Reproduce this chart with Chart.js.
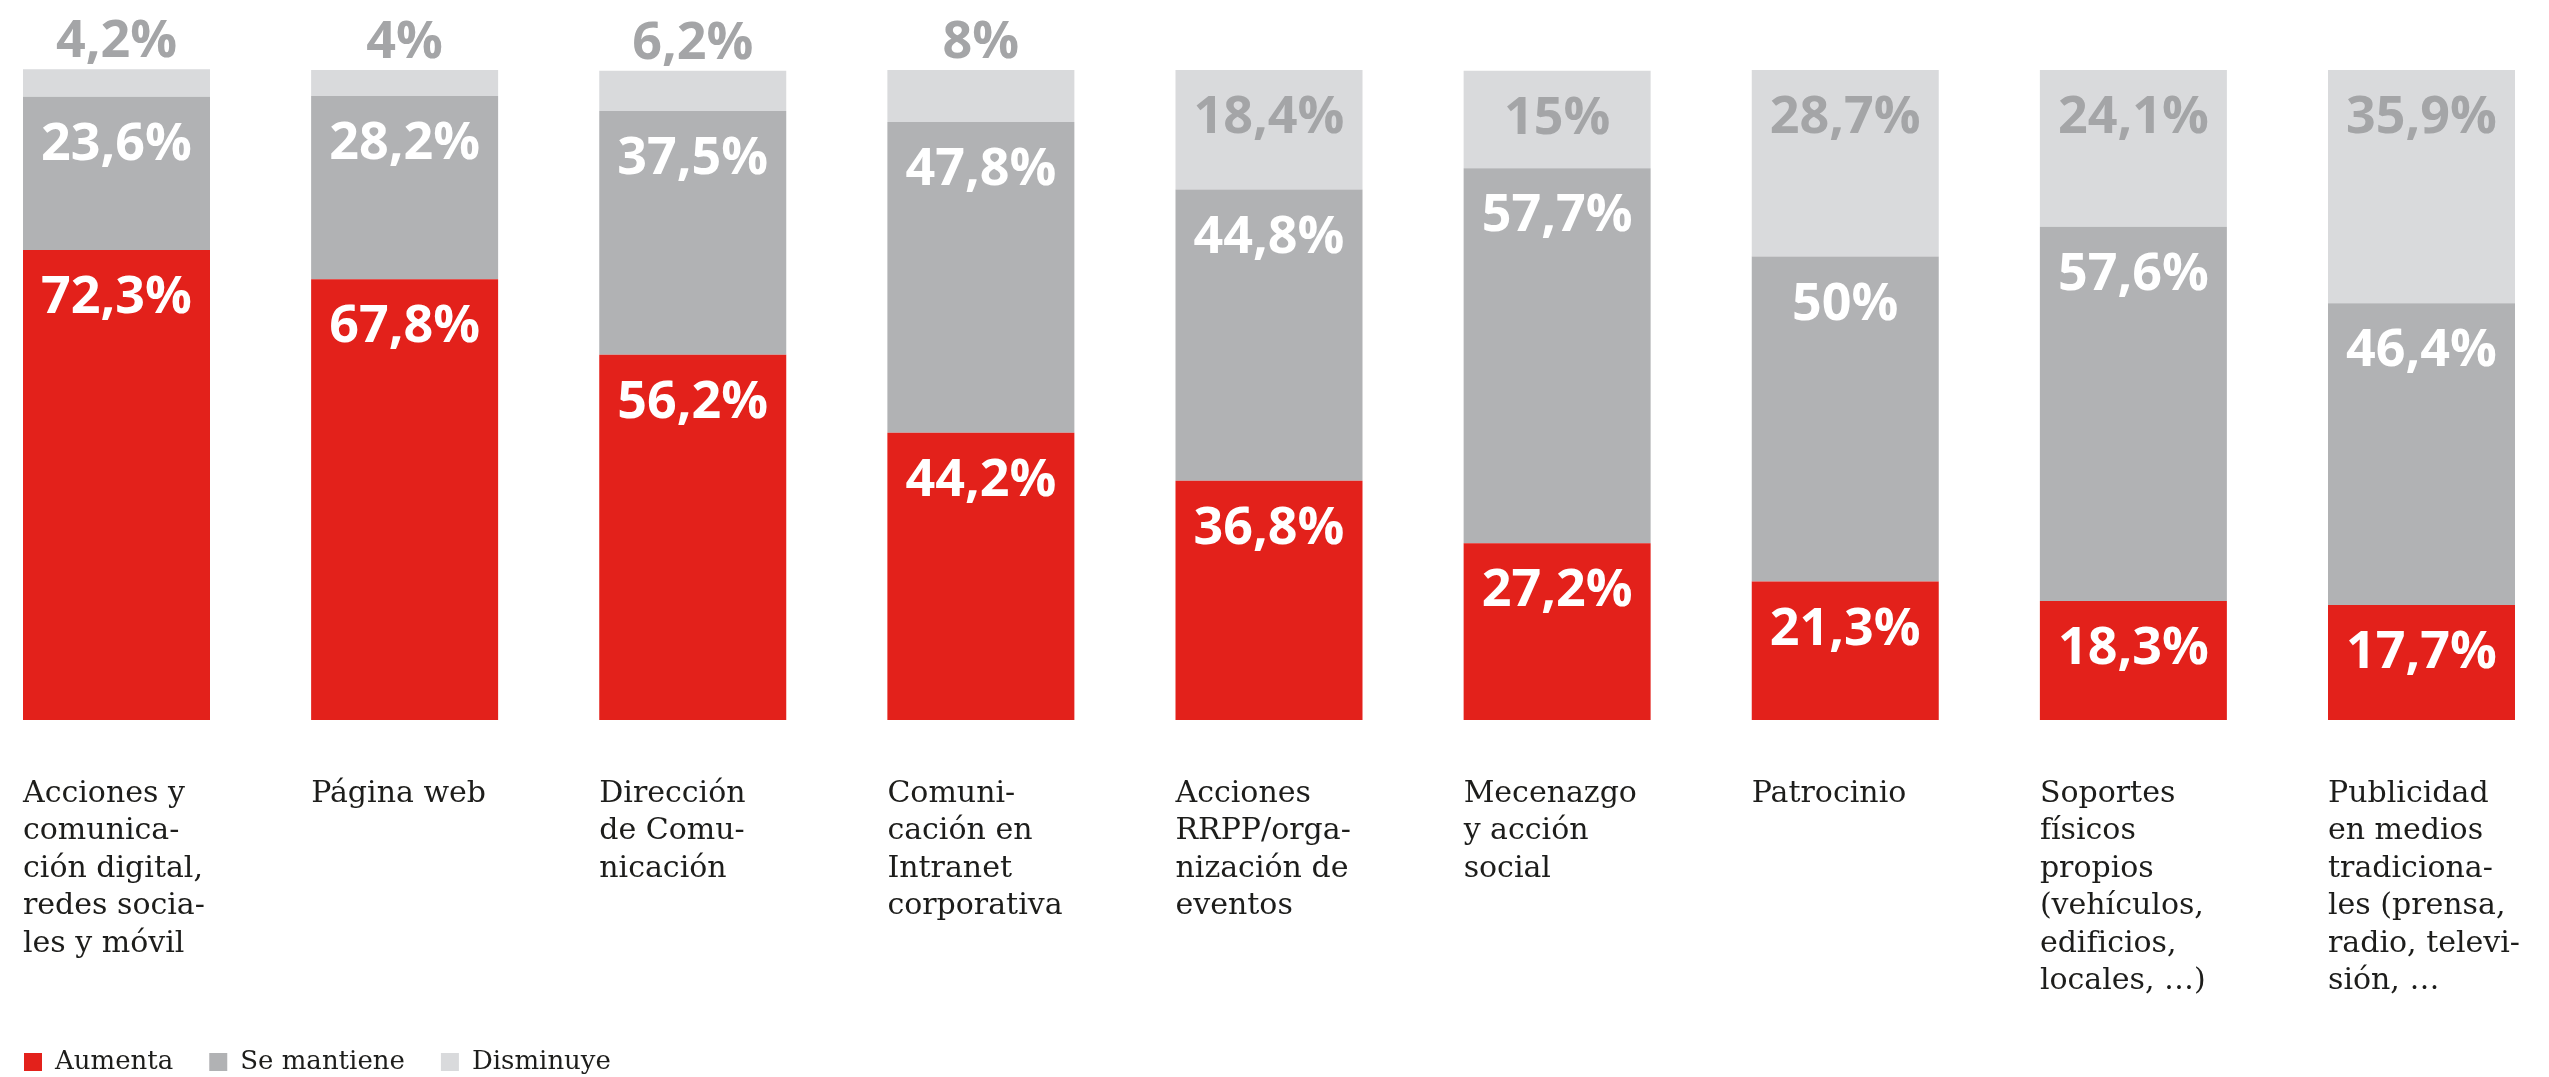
<!DOCTYPE html>
<html lang="es">
<head>
<meta charset="utf-8">
<title>Evolución de la inversión por acción de comunicación</title>
<script src="https://cdn.jsdelivr.net/npm/chart.js@4.4.1/dist/chart.umd.min.js"></script>
<style>
  html, body { margin: 0; padding: 0; background: #fff; overflow: hidden; }
  #wrap { width: 2549px; height: 1077px; }
</style>
</head>
<body>
<div id="wrap"><canvas id="chart" width="2549" height="1077"></canvas></div>
<script>
const categories = [
  ['Acciones y', 'comunica-', 'ción digital,', 'redes socia-', 'les y móvil'],
  ['Página web'],
  ['Dirección', 'de Comu-', 'nicación'],
  ['Comuni-', 'cación en', 'Intranet', 'corporativa'],
  ['Acciones', 'RRPP/orga-', 'nización de', 'eventos'],
  ['Mecenazgo', 'y acción', 'social'],
  ['Patrocinio'],
  ['Soportes', 'físicos', 'propios', '(vehículos,', 'edificios,', 'locales, …)'],
  ['Publicidad', 'en medios', 'tradiciona-', 'les (prensa,', 'radio, televi-', 'sión, …'],
];
const aumenta = [72.3, 67.8, 56.2, 44.2, 36.8, 27.2, 21.3, 18.3, 17.7];
const seMantiene = [23.6, 28.2, 37.5, 47.8, 44.8, 57.7, 50, 57.6, 46.4];
const disminuye = [4.2, 4, 6.2, 8, 18.4, 15, 28.7, 24.1, 35.9];

const RED = '#e3211b';
const MID = '#b1b2b4';
const LIGHT = '#d9dadc';
const TEXT = '#1d1d1b';

const BAR_W = 187;
const STEP = 288.125;
const LEGEND_GAP = 36;

const fmt = (v) => v.toLocaleString('es-ES', {maximumFractionDigits: 1}) + '%';

// percentages written on each segment; tiny segments get theirs above the bar
const valueLabels = {
  id: 'valueLabels',
  afterDatasetsDraw(chart) {
    const ctx = chart.ctx;
    ctx.save();
    ctx.font = '700 52px "Open Sans"';
    ctx.textAlign = 'center';
    ctx.textBaseline = 'alphabetic';
    chart.data.datasets.forEach((ds, di) => {
      const meta = chart.getDatasetMeta(di);
      meta.data.forEach((bar, i) => {
        const {x, y, base} = bar.getProps(['x', 'y', 'base'], true);
        const top = Math.min(y, base);
        const h = Math.abs(base - y);
        const ty = h < 70 ? top - 12 : top + 63;
        ctx.fillStyle = ds.labelColor;
        ctx.fillText(fmt(ds.data[i]), x, ty);
      });
    });
    ctx.restore();
  }
};

const ctx = document.querySelector('#chart').getContext('2d');

new Chart(ctx, {
  type: 'bar',
  data: {
    labels: categories,
    datasets: [
      {label: 'Aumenta', data: aumenta, backgroundColor: RED, labelColor: '#ffffff'},
      {label: 'Se mantiene', data: seMantiene, backgroundColor: MID, labelColor: '#ffffff'},
      {label: 'Disminuye', data: disminuye, backgroundColor: LIGHT, labelColor: '#a4a5a7'}
    ]
  },
  options: {
    responsive: false,
    animation: false,
    events: [],
    layout: {
      // legend starts at left + its item gap, so pull the left edge in
      padding: {top: 70, left: 24 - LEGEND_GAP, right: 127.5, bottom: -8}
    },
    datasets: {
      bar: {
        categoryPercentage: 1,
        barPercentage: BAR_W / STEP,
        borderWidth: 0,
        clip: false
      }
    },
    scales: {
      x: {
        stacked: true,
        offset: false,
        grid: {display: false, drawTicks: false},
        border: {display: false},
        ticks: {
          align: 'start',
          labelOffset: -BAR_W / 2,
          padding: 55,
          autoSkip: false,
          maxRotation: 0,
          color: TEXT,
          font: {family: 'DejaVu Serif', size: 30, lineHeight: 1.25}
        },
        afterFit: (scale) => {
          scale.height = 293;
          // labels may hang past the last bar; keep the plot width fixed
          scale.paddingLeft = 0;
          scale.paddingRight = 0;
        }
      },
      y: {
        stacked: true,
        min: 0,
        max: 100,
        grid: {display: false, drawTicks: false},
        border: {display: false},
        ticks: {display: false},
        afterFit: (scale) => { scale.width = 116.5 - (24 - LEGEND_GAP); }
      }
    },
    plugins: {
      tooltip: {enabled: false},
      legend: {
        position: 'bottom',
        align: 'start',
        labels: {
          boxWidth: 18,
          boxHeight: 18,
          padding: LEGEND_GAP,
          color: TEXT,
          font: {family: 'DejaVu Serif', size: 26}
        }
      }
    }
  },
  plugins: [valueLabels]
});
</script>
</body>
</html>
